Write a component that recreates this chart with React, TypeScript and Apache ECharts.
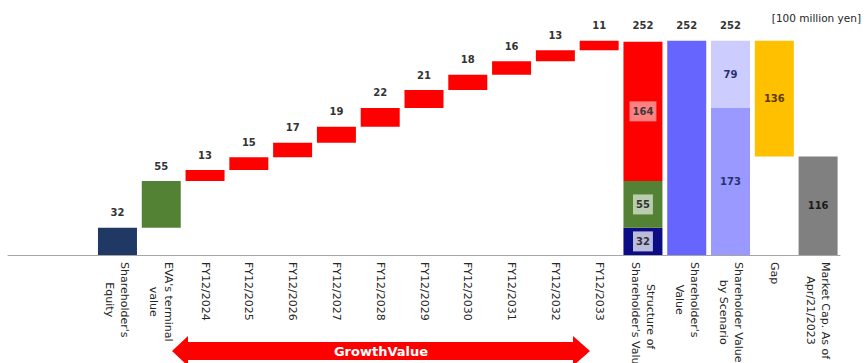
import React, { useEffect, useRef } from 'react';
import * as echarts from 'echarts';

const categories = [
  '',
  '',
  "Shareholder's\nEquity",
  "EVA's terminal\nvalue",
  'FY12/2024',
  'FY12/2025',
  'FY12/2026',
  'FY12/2027',
  'FY12/2028',
  'FY12/2029',
  'FY12/2030',
  'FY12/2031',
  'FY12/2032',
  'FY12/2033',
  "Structure of\nShareholder's Value",
  "Shareholder's\nValue",
  'Shareholder Value\nby Scenario',
  'Gap',
  'Market Cap. As of\nApr/21/2023',
];

const shareholdersEquity = 32;
const evaTerminalValue = 55;
const growthValues = [13, 15, 17, 19, 22, 21, 18, 16, 13, 11];
const structureEquity = 32;
const structureEva = 55;
const structureGrowth = 164;
const structureTotal = 252;
const shareholderValue = 252;
const scenarioBase = 173;
const scenarioUpside = 79;
const scenarioTotal = 252;
const gapValue = 136;
const marketCap = 116;
const unitLabel = '[100 million yen]';
const arrowLabel = 'GrowthValue';

const FONT = '"DejaVu Sans", Verdana, sans-serif';

const C = {
  equity: '#1f3864',
  green: '#548235',
  red: '#ff0000',
  structNavy: '#0c0c84',
  sv: '#6666ff',
  scBase: '#9999ff',
  scTop: '#ccccff',
  gap: '#ffc000',
  mc: '#808080',
};

const topLabel = {
  show: true,
  position: 'top',
  distance: 10,
  fontFamily: FONT,
  fontSize: 10,
  fontWeight: 'bold',
  color: '#333333',
};

const insideLabel = (color: string, bg?: string) => ({
  show: true,
  position: 'inside',
  fontFamily: FONT,
  fontSize: 10,
  fontWeight: 'bold',
  color,
  backgroundColor: bg || 'transparent',
  padding: bg ? [5, 3] : 0,
});

export default function App() {
  const ref = useRef<HTMLDivElement>(null);

  useEffect(() => {
    if (!ref.current) return;
    const chart = echarts.init(ref.current, undefined, { renderer: 'svg' });
    const n = categories.length;
    const empty = () => new Array(n).fill('-') as any[];

    const base = empty();
    const main = empty();
    const second = empty();
    const third = empty();
    const totals = empty();

    // Equity & EVA
    main[2] = { value: shareholdersEquity, itemStyle: { color: C.equity }, label: topLabel };
    base[3] = shareholdersEquity;
    main[3] = { value: evaTerminalValue, itemStyle: { color: C.green }, label: topLabel };
    // growth waterfall
    let cum = shareholdersEquity + evaTerminalValue;
    growthValues.forEach((v, i) => {
      base[4 + i] = cum;
      main[4 + i] = { value: v, itemStyle: { color: C.red }, label: topLabel };
      cum += v;
    });
    // Structure
    main[14] = {
      value: structureEquity,
      itemStyle: { color: C.structNavy },
      label: insideLabel('#333333', 'rgba(255,255,255,0.72)'),
    };
    second[14] = {
      value: structureEva,
      itemStyle: { color: C.green },
      label: insideLabel('#333333', 'rgba(255,255,255,0.6)'),
    };
    third[14] = {
      value: structureGrowth,
      itemStyle: { color: C.red },
      label: insideLabel('#3a3a3a', 'rgba(255,255,255,0.5)'),
    };
    totals[14] = structureTotal;
    // Shareholder's value
    main[15] = { value: shareholderValue, itemStyle: { color: C.sv }, label: topLabel };
    // Scenario
    main[16] = { value: scenarioBase, itemStyle: { color: C.scBase }, label: insideLabel('#283070') };
    second[16] = { value: scenarioUpside, itemStyle: { color: C.scTop }, label: insideLabel('#283070') };
    totals[16] = scenarioTotal;
    // Gap
    base[17] = marketCap;
    main[17] = { value: gapValue, itemStyle: { color: C.gap }, label: insideLabel('#5a3a00') };
    // Market cap
    main[18] = { value: marketCap, itemStyle: { color: C.mc }, label: insideLabel('#1a1a1a') };

    const barCommon = {
      type: 'bar',
      stack: 'a',
      barWidth: 39,
      silent: true,
    };

    chart.setOption({
      animation: false,
      grid: {
        left: 8,
        right: 25,
        top: 0,
        bottom: 108,
        containLabel: false,
        outerBoundsMode: 'none',
      },
      xAxis: {
        type: 'category',
        data: categories,
        axisLine: { show: true, lineStyle: { color: '#a6a6a6', width: 1 } },
        axisTick: { show: false },
        axisLabel: {
          interval: 0,
          rotate: -90,
          margin: 7,
          hideOverlap: false,
          formatter: (v: string) =>
            v
              .split('\n')
              .map((l) => `{c|${l}}`)
              .join('\n'),
          rich: {
            c: {
              align: 'center',
              fontFamily: FONT,
              fontSize: 11,
              lineHeight: 15,
              color: '#262626',
            },
          },
        },
      },
      yAxis: { type: 'value', min: 0, max: 300, show: false },
      series: [
        { ...barCommon, name: 'base', data: base, itemStyle: { color: 'transparent' } },
        { ...barCommon, name: 'main', data: main },
        { ...barCommon, name: 'second', data: second },
        { ...barCommon, name: 'third', data: third },
        {
          type: 'scatter',
          name: 'totals',
          data: totals,
          symbolSize: 0,
          silent: true,
          itemStyle: { opacity: 1, color: '#333333' },
          label: { ...topLabel, distance: 10 },
        },
      ],
      graphic: [
        {
          type: 'text',
          right: 4,
          top: 12,
          style: {
            text: unitLabel,
            fontFamily: FONT,
            fontSize: 10.5,
            fill: '#262626',
          },
        },
        {
          type: 'polygon',
          shape: {
            points: [
              [172, 351],
              [188, 336],
              [188, 342],
              [573, 342],
              [573, 336],
              [590, 351],
              [573, 366],
              [573, 360],
              [188, 360],
              [188, 366],
            ],
          },
          style: { fill: '#ff0000' },
        },
        {
          type: 'text',
          x: 381,
          y: 351,
          style: {
            text: arrowLabel,
            fontFamily: FONT,
            fontSize: 13,
            fontWeight: 'bold',
            fill: '#ffffff',
            align: 'center',
            verticalAlign: 'middle',
          },
        },
      ],
    });

    return () => chart.dispose();
  }, []);

  return (
    <div
      ref={ref}
      style={{ position: 'fixed', left: 0, top: 0, width: 865, height: 363, background: '#ffffff' }}
    />
  );
}
